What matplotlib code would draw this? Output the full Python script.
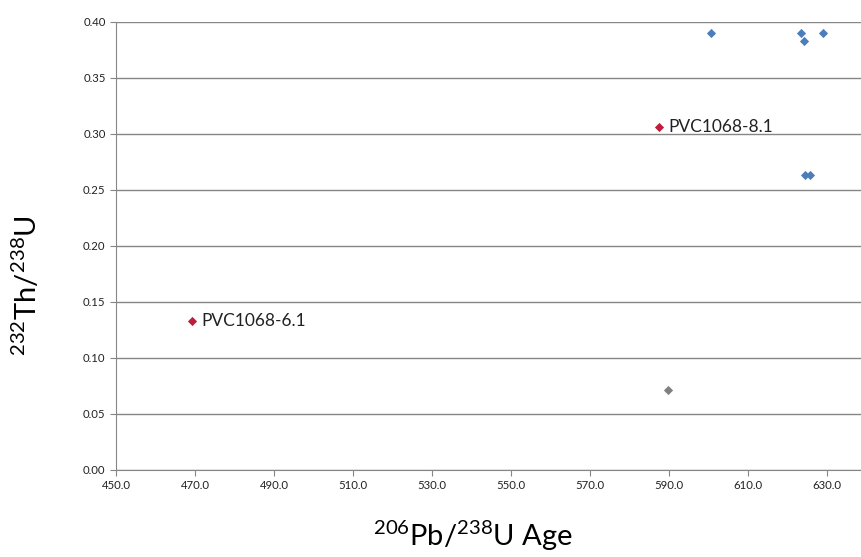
import numpy as np
import matplotlib.pyplot as plt

plt.rcParams['font.family'] = ['Lato', 'DejaVu Sans']
plt.rcParams['mathtext.default'] = 'regular'

# zircon spots: 206Pb/238U age vs 232Th/238U
blue_age = [600.6, 623.5, 624.2, 629.0, 624.6, 625.8]
blue_thu = [0.390, 0.390, 0.383, 0.390, 0.263, 0.263]

red_age = [469.2, 587.5]
red_thu = [0.133, 0.306]
red_names = ["PVC1068-6.1", "PVC1068-8.1"]

gray_age = [589.8]
gray_thu = [0.071]

fig = plt.figure(figsize=(8.61, 5.57), dpi=100)
ax = fig.add_axes([116/861, 1-470/557, 1-116/861, (470-22)/557])

ax.scatter(blue_age, blue_thu, marker='D', s=22, color='#4a7ebb', zorder=3, linewidths=0)
ax.scatter(red_age, red_thu, marker='D', s=22, color='#be1e3c', zorder=3, linewidths=0)
ax.scatter(gray_age, gray_thu, marker='D', s=22, color='#808080', zorder=3, linewidths=0)

for a, t, name in zip(red_age, red_thu, red_names):
    ax.annotate(name, (a, t), xytext=(7, 0), textcoords='offset points',
                va='center', ha='left', fontsize=12.5, color='#222222')

ax.set_xlim(450, 638.7)
ax.set_ylim(0, 0.40)
ax.set_xticks(np.arange(450, 631, 20))
ax.set_xticklabels([f"{v:.1f}" for v in np.arange(450, 631, 20)])
ax.set_yticks(np.arange(0, 0.401, 0.05))
ax.set_yticklabels([f"{v:.2f}" for v in np.arange(0, 0.401, 0.05)])

ax.grid(axis='y', color='#868686', linewidth=1)
ax.set_axisbelow(True)
for s in ['top', 'right']:
    ax.spines[s].set_visible(False)
for s in ['left', 'bottom']:
    ax.spines[s].set_color('#868686')
ax.tick_params(axis='both', labelsize=8.2, colors='#868686', labelcolor='#222222', length=4)

ax.set_ylabel(r'$^{232}$Th/$^{238}$U', fontsize=21)
ax.set_xlabel(r'$^{206}$Pb/$^{238}$U Age', fontsize=21)
ax.xaxis.set_label_coords((473-116)/745, -(519-470)/448)
ax.yaxis.set_label_coords(-(116-42)/745, (470-286)/448)

fig.savefig('out.png', dpi=100)
